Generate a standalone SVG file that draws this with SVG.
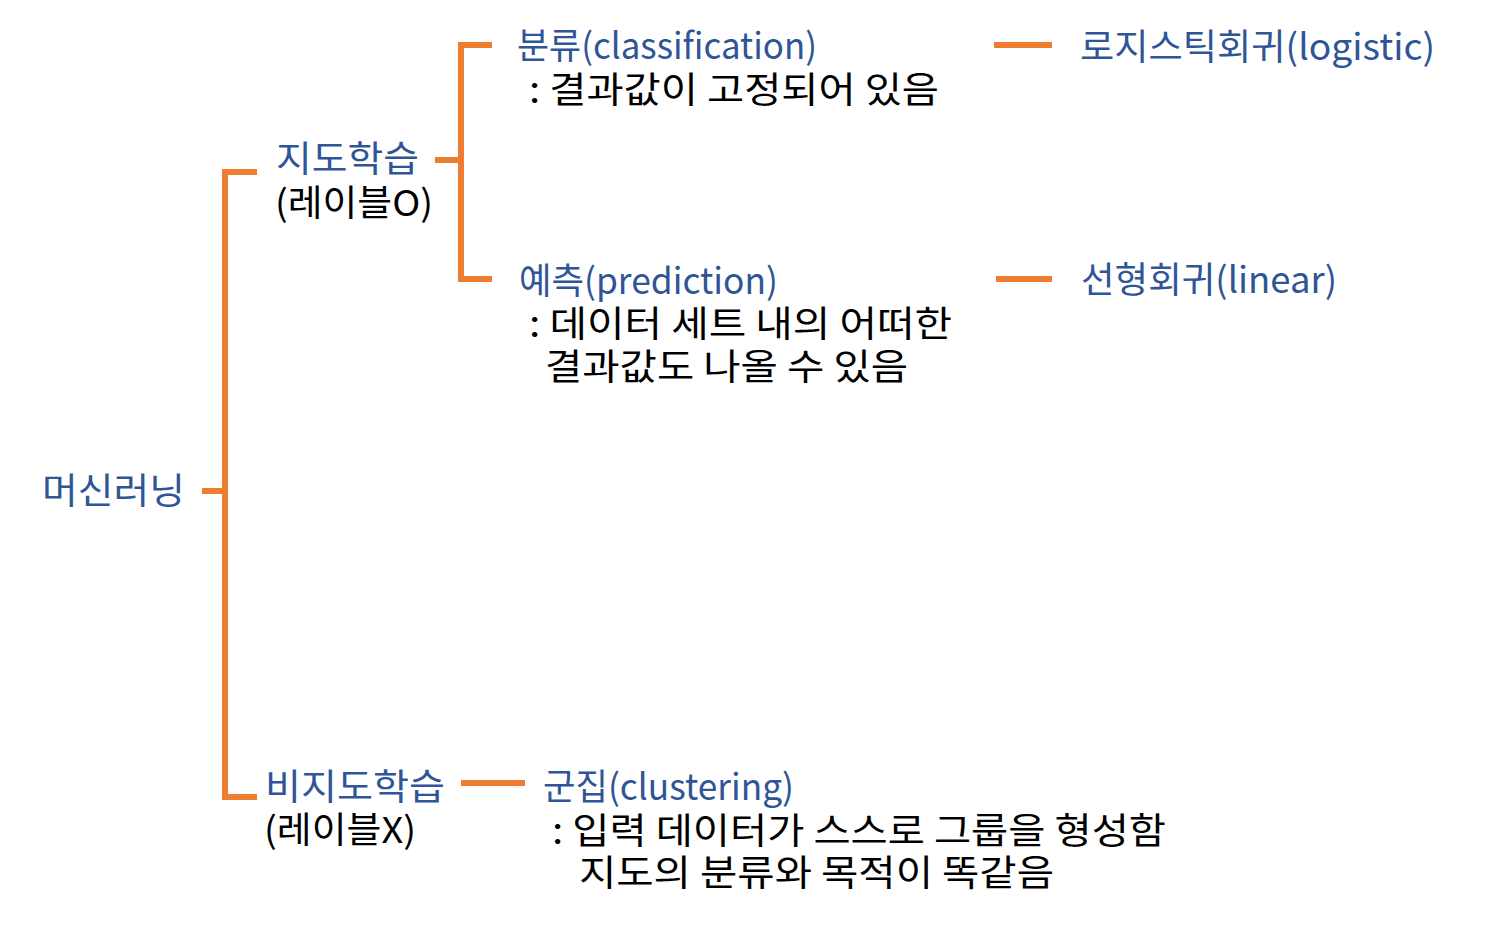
<svg xmlns="http://www.w3.org/2000/svg" width="1495" height="945" viewBox="0 0 1495 945">
<style>
.t{font-family:"Noto Sans CJK KR","Noto Sans",sans-serif;font-size:36px}
.b{fill:#2F5597}
.k{fill:#000000}
.c{fill:none;stroke:#ED7D31;stroke-width:6;stroke-linecap:butt;stroke-linejoin:miter}
</style>
<rect width="1495" height="945" fill="#ffffff"/>
<g id="connectors">
<path class="c" d="M257,172 H225 V797 H257"/>
<path class="c" d="M202,491 H225"/>
<path class="c" d="M492,45 H461 V279 H492"/>
<path class="c" d="M435,160 H461"/>
<path class="c" d="M994,45 H1052"/>
<path class="c" d="M996,279 H1052"/>
<path class="c" d="M461,783 H525"/>
</g>
<g id="ml"><text class="t b" x="42" y="504" textLength="143" lengthAdjust="spacingAndGlyphs">머신러닝</text></g>
<g id="supervised">
<text class="t b" x="276" y="172" textLength="143" lengthAdjust="spacingAndGlyphs">지도학습</text>
<text class="t k" x="275" y="216" textLength="158" lengthAdjust="spacingAndGlyphs">(레이블O)</text>
</g>
<g id="classification">
<text class="t b" x="517" y="59" textLength="300" lengthAdjust="spacingAndGlyphs">분류(classification)</text>
<text class="t k" x="529" y="103" textLength="410" lengthAdjust="spacingAndGlyphs">: 결과값이 고정되어 있음</text>
</g>
<g id="prediction">
<text class="t b" x="519" y="294" textLength="259" lengthAdjust="spacingAndGlyphs">예측(prediction)</text>
<text class="t k" x="529" y="337" textLength="423" lengthAdjust="spacingAndGlyphs">: 데이터 세트 내의 어떠한</text>
<text class="t k" x="545" y="380" textLength="363" lengthAdjust="spacingAndGlyphs">결과값도 나올 수 있음</text>
</g>
<g id="logistic"><text class="t b" x="1080" y="60" textLength="355" lengthAdjust="spacingAndGlyphs">로지스틱회귀(logistic)</text></g>
<g id="linear"><text class="t b" x="1081" y="293" textLength="256" lengthAdjust="spacingAndGlyphs">선형회귀(linear)</text></g>
<g id="unsupervised">
<text class="t b" x="265" y="800" textLength="180" lengthAdjust="spacingAndGlyphs">비지도학습</text>
<text class="t k" x="264" y="843" textLength="152" lengthAdjust="spacingAndGlyphs">(레이블X)</text>
</g>
<g id="clustering">
<text class="t b" x="543" y="800" textLength="251" lengthAdjust="spacingAndGlyphs">군집(clustering)</text>
<text class="t k" x="552" y="844" textLength="614" lengthAdjust="spacingAndGlyphs">: 입력 데이터가 스스로 그룹을 형성함</text>
<text class="t k" x="579" y="886" textLength="475" lengthAdjust="spacingAndGlyphs">지도의 분류와 목적이 똑같음</text>
</g>
</svg>
